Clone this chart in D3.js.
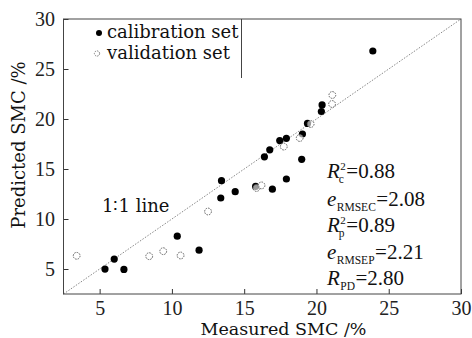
<!DOCTYPE html>
<html><head><meta charset="utf-8">
<script src="https://cdn.jsdelivr.net/npm/d3@7"></script>
<style>body{margin:0;background:#fff}svg{display:block}</style>
</head><body>
<svg id="c" width="472" height="338"></svg>
<script>
// ---- data ----
const calX = [5.37, 6.01, 6.68, 10.37, 11.88, 13.38, 13.43, 14.38, 15.79, 16.40, 16.77, 16.95, 17.46, 17.92, 17.92, 18.98, 19.03, 19.38, 20.34, 20.39, 23.90];
const calY = [4.99, 5.99, 4.96, 8.28, 6.88, 12.10, 13.83, 12.73, 13.26, 16.22, 16.92, 12.98, 17.84, 18.07, 14.00, 15.97, 18.50, 19.56, 20.75, 21.41, 26.80];
const valX = [3.41, 8.43, 9.40, 10.60, 12.50, 15.85, 16.20, 17.74, 18.84, 19.60, 21.08, 21.10];
const valY = [6.32, 6.28, 6.78, 6.35, 10.75, 13.10, 13.36, 17.24, 18.10, 19.50, 21.50, 22.40];
const xTicks = [5, 10, 15, 20, 25, 30];
const yTicks = [5, 10, 15, 20, 25, 30];
const domainMin = 2.5, domainMax = 30;
const legendLabels = ["calibration set", "validation set"];
const stats = [
  {main: "R", sup: "2", sub: "c", val: "=0.88"},
  {main: "e", sup: "", sub: "RMSEC", val: "=2.08"},
  {main: "R", sup: "2", sub: "p", val: "=0.89"},
  {main: "e", sup: "", sub: "RMSEP", val: "=2.21"},
  {main: "R", sup: "", sub: "PD", val: "=2.80"}
];
const xTitle = "Measured SMC /%";
const yTitle = "Predicted SMC /%";
const lineLabel = "1\u22361 line";

// ---- drawing ----
const svg = d3.select("#c");
const L = 63.5, R = 461, T = 19, B = 294;
const x = d3.scaleLinear().domain([domainMin, domainMax]).range([L, R]);
const y = d3.scaleLinear().domain([domainMin, domainMax]).range([B, T]);
const wordFont = "'DejaVu Serif', serif";
const numFont = "'Liberation Serif', 'Times New Roman', serif";

// 1:1 line
svg.append("line")
  .attr("x1", x(domainMin)).attr("y1", y(domainMin))
  .attr("x2", x(domainMax)).attr("y2", y(domainMax))
  .attr("stroke", "#888").attr("stroke-width", 1).attr("stroke-dasharray", "1.5,1.5");

// axes
const gx = svg.append("g").attr("transform", `translate(0,${B})`)
  .call(d3.axisBottom(x).tickValues(xTicks).tickSizeInner(-5).tickSizeOuter(0).tickPadding(7).tickFormat(d3.format("d")));
const gy = svg.append("g").attr("transform", `translate(${L},0)`)
  .call(d3.axisLeft(y).tickValues(yTicks).tickSizeInner(-5).tickSizeOuter(0).tickPadding(8.5).tickFormat(d3.format("d")));
[gx, gy].forEach(g => {
  g.select(".domain").remove();
  g.selectAll(".tick line").attr("stroke", "#333");
  g.selectAll(".tick text").attr("font-family", numFont).attr("font-size", 20).attr("fill", "#222");
});

// frame
svg.append("rect").attr("x", L).attr("y", T).attr("width", R - L).attr("height", B - T)
  .attr("fill", "none").attr("stroke", "#444").attr("stroke-width", 1);

// legend box right edge
svg.append("line").attr("x1", 241.5).attr("x2", 241.5).attr("y1", T).attr("y2", 78)
  .attr("stroke", "#444").attr("stroke-width", 1);

// points
svg.append("g").selectAll("circle").data(calX.map((v, i) => [v, calY[i]])).join("circle")
  .attr("cx", d => x(d[0])).attr("cy", d => y(d[1])).attr("r", 3.6).attr("fill", "#000");
svg.append("g").selectAll("circle").data(valX.map((v, i) => [v, valY[i]])).join("circle")
  .attr("cx", d => x(d[0])).attr("cy", d => y(d[1])).attr("r", 3.4)
  .attr("fill", "#fff").attr("fill-opacity", 0.6).attr("stroke", "#666").attr("stroke-width", 1)
  .attr("stroke-dasharray", "1.6,1");

// legend
svg.append("circle").attr("cx", 99).attr("cy", 33).attr("r", 3).attr("fill", "#000");
svg.append("circle").attr("cx", 97).attr("cy", 53.5).attr("r", 2.6).attr("fill", "none")
  .attr("stroke", "#777").attr("stroke-width", 1).attr("stroke-dasharray", "1.4,1");
legendLabels.forEach((t, i) => {
  svg.append("text").attr("x", 107).attr("y", 38 + i * 21).text(t)
    .attr("font-family", wordFont).attr("font-size", 18).attr("fill", "#111");
});

// 1:1 label
svg.append("text").attr("x", 102).attr("y", 212).text(lineLabel)
  .attr("font-family", wordFont).attr("font-size", 18).attr("fill", "#111");

// axis titles
svg.append("text").attr("x", 283.5).attr("y", 334.5).attr("text-anchor", "middle").text(xTitle)
  .attr("font-family", wordFont).attr("font-size", 17.5).attr("fill", "#111");
svg.append("text").attr("transform", "translate(25,145) rotate(-90)").attr("text-anchor", "middle").text(yTitle)
  .attr("font-family", wordFont).attr("font-size", 18).attr("fill", "#111");

// stats block
const baselines = [178, 206, 232, 259, 285];
stats.forEach((s, i) => {
  const by = baselines[i], x0 = 327;
  const m = svg.append("text").attr("x", x0).attr("y", by).text(s.main)
    .attr("font-family", numFont).attr("font-style", "italic").attr("font-size", 21).attr("fill", "#111");
  const mw = m.node().getComputedTextLength();
  let xs = x0 + mw + 0.5, w = 0;
  if (s.sup) {
    const t = svg.append("text").attr("x", xs).attr("y", by - 8).text(s.sup)
      .attr("font-family", numFont).attr("font-size", 11).attr("fill", "#111");
    w = Math.max(w, t.node().getComputedTextLength());
  }
  if (s.sub) {
    const t = svg.append("text").attr("x", xs - (s.sup ? 1.5 : 0)).attr("y", by + 5).text(s.sub)
      .attr("font-family", numFont).attr("font-size", 11.5).attr("fill", "#111");
    w = Math.max(w, t.node().getComputedTextLength() - (s.sup ? 1.5 : 0));
  }
  svg.append("text").attr("x", xs + w + 0.5).attr("y", by).text(s.val)
    .attr("font-family", numFont).attr("font-size", 21).attr("fill", "#111");
});
</script>
</body></html>
